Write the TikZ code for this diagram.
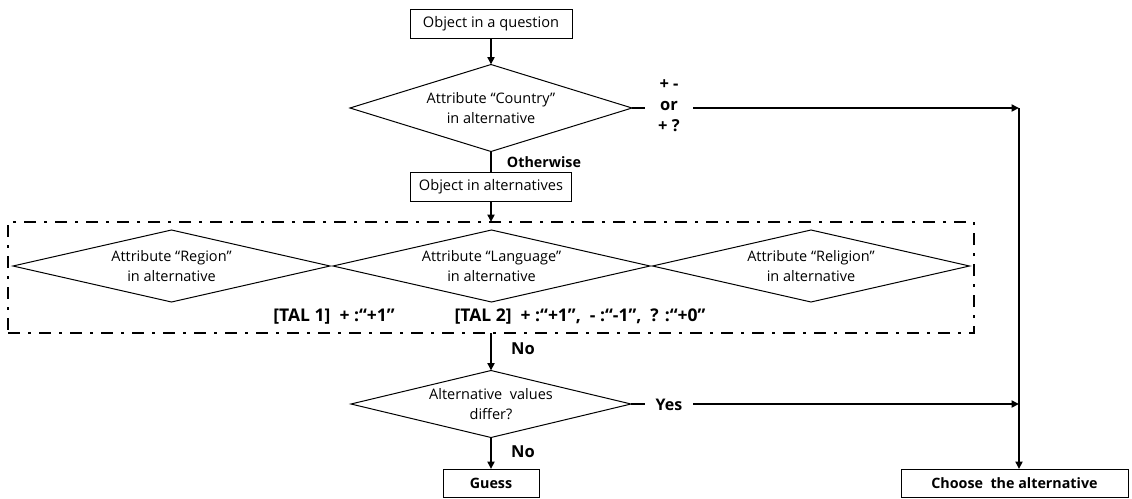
\documentclass[tikz,border=0pt]{standalone}
\usepackage{fontspec}
\setmainfont{Open Sans}
\usetikzlibrary{shapes.geometric,arrows.meta}
\begin{document}
\begin{tikzpicture}[x=1pt,y=-1pt,
  box/.style={draw,line width=1pt,rectangle,inner sep=0pt,outer sep=0pt},
  plain/.style={font=\fontsize{14.6}{18}\selectfont},
  dec/.style={draw,line width=1pt,diamond,aspect=4,inner sep=0pt,outer sep=0pt,
    align=center,font=\fontsize{14.5}{20}\selectfont},
  flow/.style={line width=2pt,-{Triangle[length=7.5pt,width=7pt]}},
  link/.style={line width=2pt},
  lbl/.style={font=\bfseries\fontsize{14.3}{16}\selectfont,inner sep=1pt},
  big/.style={font=\bfseries\fontsize{16.5}{18}\selectfont,inner sep=1pt},
  tal/.style={font=\bfseries\fontsize{17.5}{20}\selectfont,inner sep=0pt},
  group/.style={draw,line width=2.5pt,dash pattern=on 12pt off 8pt on 3pt off 8pt,
    rectangle,inner sep=0pt,outer sep=0pt},
]
\useasboundingbox (0,0) rectangle (1132,498);

% main column
\node[box,plain,minimum width=162,minimum height=29] (q) at (491,23.5) {Object in a question};
\node[dec,minimum width=282,minimum height=87] (cty) at (491,108) {Attribute “Country”\\in alternative};
\node[box,plain,minimum width=161,minimum height=29] (alt) at (491,186.5) {Object in alternatives};

% attribute group
\node[group,minimum width=966,minimum height=111] (grp) at (491,277.5) {};
\node[dec,minimum width=317,minimum height=72] (reg) at (171.5,266) {Attribute “Region”\\in alternative};
\node[dec,minimum width=317,minimum height=72] (lang) at (491.5,266) {Attribute “Language”\\in alternative};
\node[dec,minimum width=317,minimum height=72] (rel) at (811,266) {Attribute “Religion”\\in alternative};
\node[tal] (tal1) at (334,317) {[TAL 1]~~+ :“+1”};
\node[tal] (tal2) at (580,317) {[TAL 2]~~+ :“+1”,~~- :“-1”,~~? :“+0”};

% decision and outcomes
\node[dec,minimum width=280,minimum height=67] (chk) at (491,404) {Alternative~~values\\differ?};
\node[box,lbl,minimum width=96,minimum height=28] (guess) at (491,483) {Guess};
\node[box,lbl,minimum width=227,minimum height=28] (choose) at (1014.5,483) {Choose~~the alternative};

\coordinate (j1) at (1019,108);
\coordinate (j2) at (1019,404);

% connectors
\draw[flow] (q.south) -- (cty.north);
\draw[link] (cty.south) -- (alt.north);
\draw[flow] (alt.south) -- (alt.south |- grp.north);
\draw[flow] (alt.south |- grp.south) -- (chk.north);
\draw[flow] (chk.south) -- (guess.north);
\draw[flow] (cty.east) -- (j1);
\draw[flow] (chk.east) -- (j2);
\draw[flow] (j1) -- (j1 |- choose.north);

% connector labels
\node[lbl] (oth) at (544,162) {Otherwise};
\node[big] (no1) at (523,349) {No};
\node[big] (no2) at (523,452) {No};
\node[fill=white,font=\bfseries\fontsize{16}{18}\selectfont,minimum width=48,minimum height=22,inner sep=0pt] (yes) at (669,405) {Yes};
\node[fill=white,align=center,font=\bfseries\fontsize{16.5}{21}\selectfont,minimum width=48,inner sep=1pt] (pm) at (669,106) {+ -\\or\\+ ?};
\end{tikzpicture}
\end{document}
